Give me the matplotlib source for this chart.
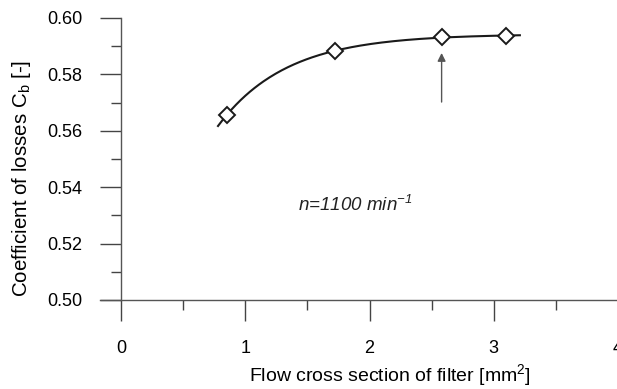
import numpy as np
import matplotlib.pyplot as plt
from matplotlib import rc
from matplotlib.ticker import MultipleLocator

rc('font', **{'family': 'sans-serif', 'sans-serif': ['Liberation Sans'], 'size': 13})
rc('mathtext', **{'default': 'regular'})

# measured points
area = [0.85, 1.72, 2.58, 3.10]
cb = [0.5656, 0.5883, 0.5933, 0.5936]
arrow_x = 2.58
arrow_y = [0.5702, 0.5876]

# saturating fit cb = a - b*exp(-c*x), c by grid search
x = np.array(area)
y = np.array(cb)
best = None
for c in np.linspace(0.3, 5, 500):
    A = np.vstack([np.ones_like(x), -np.exp(-c * x)]).T
    coef, res, _, _ = np.linalg.lstsq(A, y, rcond=None)
    err = np.sum((A @ coef - y) ** 2)
    if best is None or err < best[0]:
        best = (err, c, coef)
_, c, (a, b) = best
xs = np.linspace(0.78, 3.21, 200)
ys = a - b * np.exp(-c * xs)

fig = plt.figure(figsize=(6.17, 3.89), dpi=100)
ax = fig.add_axes([100 / 617, 1 - 300 / 389, 518 / 617, 282 / 389])

ax.plot(xs, ys, color='#1a1a1a', lw=1.5, zorder=2)
ax.plot(area, cb, 'D', ms=8.5, mfc='white', mec='#1a1a1a', mew=1.4, zorder=3)
ax.annotate('', xy=(arrow_x, arrow_y[1]), xytext=(arrow_x, arrow_y[0]),
            arrowprops=dict(arrowstyle='-|>', color='#555555', lw=1.0,
                            mutation_scale=12, shrinkA=0, shrinkB=0))
ax.text(1.42, 0.5337, 'n=1100 min$^{-1}$', style='italic', fontsize=13.5,
        va='center', ha='left', color='#222222')

ax.set_xlim(-0.17, 4.0)
ax.set_ylim(0.50, 0.60)
for s in ['top', 'right']:
    ax.spines[s].set_visible(False)
ax.spines['left'].set_position(('data', 0))
for s in ['left', 'bottom']:
    ax.spines[s].set_color('#555555')
    ax.spines[s].set_linewidth(1.0)

ax.xaxis.set_major_locator(MultipleLocator(1))
ax.xaxis.set_minor_locator(MultipleLocator(0.5))
ax.yaxis.set_major_locator(MultipleLocator(0.02))
ax.yaxis.set_minor_locator(MultipleLocator(0.01))
ax.yaxis.set_major_formatter(plt.FormatStrFormatter('%.2f'))
ax.tick_params(which='major', length=15, width=1.0, color='#444444', direction='out')
ax.tick_params(which='minor', length=7.5, width=1.0, color='#444444', direction='out')
ax.tick_params(axis='x', which='major', pad=14)
ax.tick_params(axis='y', which='major', pad=13)

ax.set_xlabel('Flow cross section of filter [mm$^2$]', fontsize=14)
ax.xaxis.set_label_coords(0.56, -0.22)
ax.set_ylabel('Coefficient of losses C$_b$ [-]', fontsize=14.8)
ax.yaxis.set_label_coords(-0.13, 0.43)

fig.savefig('out.png', dpi=100)
